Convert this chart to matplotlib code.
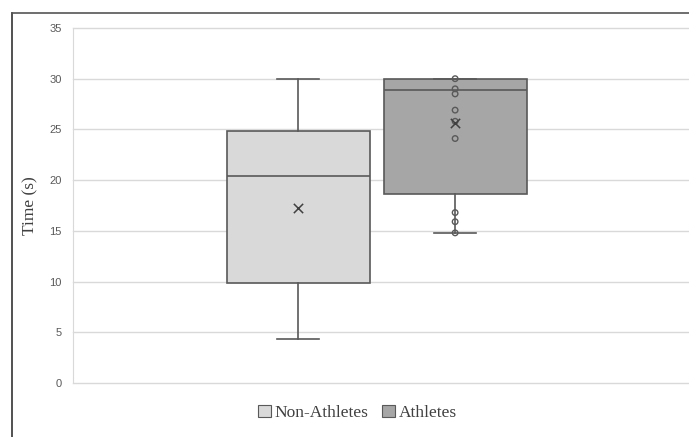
import matplotlib.pyplot as plt
from matplotlib.lines import Line2D
from matplotlib.patches import Patch

# box statistics (seconds)
groups = ["Non-Athletes", "Athletes"]
whisker_low = [4.3, 14.8]
q1 = [9.9, 18.6]
median = [20.4, 28.9]
q3 = [24.8, 30.0]
whisker_high = [30.0, 30.0]
means = [17.3, 25.6]

# inner points shown for the Athletes series
athlete_points = [30.0, 29.0, 28.5, 26.9, 25.8, 24.1, 16.8, 15.9, 14.8]

fills = ["#d9d9d9", "#a6a6a6"]
edge = "#595959"
positions = [0.366, 0.621]

fig = plt.figure(figsize=(6.89, 4.37), dpi=100)
ax = fig.add_axes([0.106, 0.1236, 0.893, 0.8124])

stats = []
for i, name in enumerate(groups):
    stats.append({"label": name, "whislo": whisker_low[i], "q1": q1[i], "med": median[i],
                  "q3": q3[i], "whishi": whisker_high[i], "fliers": []})

bp = ax.bxp(stats, positions=positions, widths=0.2325, patch_artist=True,
            showfliers=False, manage_ticks=False,
            boxprops=dict(linewidth=1.2, edgecolor=edge),
            medianprops=dict(color=edge, linewidth=1.2),
            whiskerprops=dict(color=edge, linewidth=1.2),
            capprops=dict(color=edge, linewidth=1.2))
for box, c in zip(bp["boxes"], fills):
    box.set_facecolor(c)
for cap in bp["caps"]:
    xd = cap.get_xdata()
    mid = (xd[0] + xd[1]) / 2
    cap.set_xdata([mid - 0.034, mid + 0.034])

ax.scatter(positions, means, marker="x", s=45, color="#404040", linewidths=1.1, zorder=5)
ax.scatter([positions[1]] * len(athlete_points), athlete_points, s=16,
           facecolors="none", edgecolors="#595959", linewidths=1.0, zorder=4)

ax.set_xlim(0, 1)
ax.set_ylim(0, 35)
ax.set_yticks(range(0, 36, 5))
ax.set_xticks([])
ax.yaxis.grid(True, color="#d9d9d9", linewidth=1)
for gl in ax.get_ygridlines():
    gl.set_clip_on(False)
ax.set_axisbelow(True)
for s in ax.spines.values():
    s.set_visible(False)
ax.spines["left"].set_visible(True)
ax.spines["left"].set_color("#d9d9d9")
ax.tick_params(axis="y", length=0, pad=8, labelsize=8, labelcolor="#595959")
for lbl in ax.get_yticklabels():
    lbl.set_family("Liberation Sans")
ax.set_ylabel("Time (s)", family="Liberation Serif", fontsize=12.5, color="#404040", labelpad=8)

handles = [Patch(facecolor=c, edgecolor=edge, linewidth=0.8) for c in fills]
fig.legend(handles, groups, loc="center", bbox_to_anchor=(0.519, 0.055), ncol=2,
           frameon=False, prop={"family": "Liberation Serif", "size": 12.5},
           handlelength=0.75, handleheight=0.75, handletextpad=0.2, columnspacing=0.8,
           labelcolor="#404040")

# screenshot border at the left and top
fig.add_artist(Line2D([0.0174, 0.0174], [0, 0.97], color="#333333", linewidth=1.2))
fig.add_artist(Line2D([0.0174, 1], [0.97, 0.97], color="#555555", linewidth=1.2))

fig.savefig("out.png", dpi=100)
